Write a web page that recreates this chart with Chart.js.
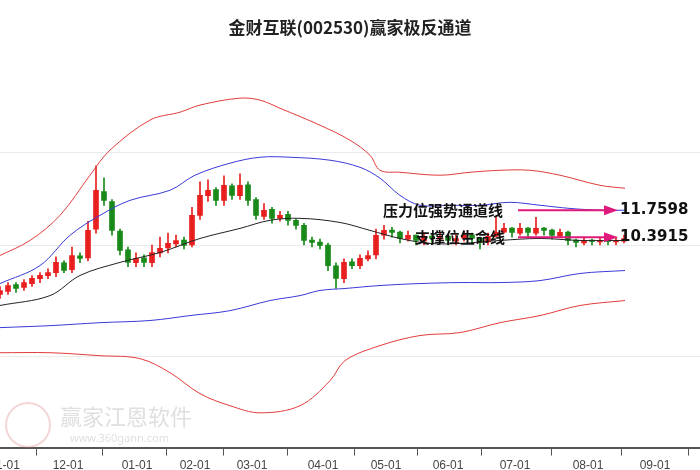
<!DOCTYPE html>
<html>
<head>
<meta charset="utf-8">
<script src="https://cdn.jsdelivr.net/npm/chart.js@4/dist/chart.umd.min.js"></script>
<style>
  body { margin: 0; background: #fff; }
  #wrap { width: 700px; height: 470px; }
</style>
</head>
<body>
<div id="wrap"><canvas id="chart"></canvas></div>
<script>
// month ticks (x position in trading-day units) and labels
const monthPos = [5, 68, 137, 195, 252, 323, 386, 448, 515, 588, 655];
const monthLabels = ["11-01", "12-01", "01-01", "02-01", "03-01", "04-01", "05-01", "06-01", "07-01", "08-01", "09-01"];

// candles, one every 8 units
const candleX = [0,8,16,24,32,40,48,56,64,72,80,88,96,104,112,120,128,136,144,152,160,168,176,184,192,200,208,216,224,232,240,248,256,264,272,280,288,296,304,312,320,328,336,344,352,360,368,376,384,392,400,408,416,424,432,440,448,456,464,472,480,488,496,504,512,520,528,536,544,552,560,568,576,584,592,600,608,616,624];
const closes = [7.70,7.95,7.80,8.10,8.31,8.46,8.61,9.12,8.72,9.47,9.32,10.74,12.77,12.26,10.74,9.73,9.12,9.32,9.12,9.62,9.83,10.08,10.23,9.98,11.50,12.51,12.77,12.26,13.02,12.51,13.02,12.26,11.50,11.75,11.35,11.50,11.25,10.99,10.23,10.13,9.98,8.96,8.31,9.12,8.96,9.32,9.47,10.49,10.74,10.64,10.33,10.49,10.23,10.44,10.33,10.44,10.23,10.33,10.49,10.33,10.13,10.44,10.64,10.84,10.64,10.84,10.64,10.84,10.74,10.49,10.64,10.23,10.13,10.23,10.18,10.23,10.18,10.23,10.33];
const opens  = [7.50,7.65,8.00,7.85,8.05,8.30,8.45,8.60,9.10,8.75,9.45,9.35,10.80,12.70,12.20,10.70,9.75,9.10,9.35,9.10,9.60,9.85,10.05,10.25,10.00,11.50,12.50,12.80,12.25,13.00,12.50,13.05,12.30,11.45,11.80,11.35,11.55,11.25,11.00,10.25,10.15,10.00,8.95,8.30,9.15,8.95,9.30,9.50,10.50,10.75,10.65,10.30,10.50,10.20,10.45,10.30,10.45,10.20,10.35,10.50,10.35,10.15,10.45,10.65,10.85,10.60,10.85,10.60,10.85,10.75,10.45,10.65,10.25,10.10,10.25,10.15,10.25,10.15,10.20];
const highs  = [7.90,8.10,8.10,8.25,8.45,8.60,8.80,9.40,9.20,9.90,9.60,11.20,14.00,13.40,12.30,10.80,9.90,9.60,9.50,10.00,10.40,10.60,10.50,10.40,11.90,13.20,13.30,12.90,13.50,13.10,13.60,13.20,12.40,12.10,11.90,11.70,11.70,11.30,11.10,10.40,10.30,10.10,9.10,9.30,9.30,9.50,9.70,10.80,11.00,10.90,10.70,10.70,10.50,10.60,10.50,10.60,10.50,10.50,10.70,10.60,10.40,10.60,11.40,11.10,10.90,11.10,10.90,11.40,10.90,10.80,10.80,10.70,10.30,10.40,10.30,10.40,10.30,10.40,10.50];
const lows   = [7.30,7.50,7.60,7.70,7.90,8.10,8.30,8.40,8.60,8.60,9.10,9.20,10.60,12.00,10.50,9.50,8.90,8.90,8.90,8.90,9.40,9.60,9.90,9.80,9.90,11.30,12.20,12.00,12.00,12.30,12.30,12.00,11.30,11.30,11.10,11.20,11.00,10.80,10.00,9.90,9.80,8.70,7.80,8.10,8.80,8.80,9.20,9.30,10.30,10.40,10.10,10.20,10.00,10.00,10.10,10.10,10.00,10.00,10.20,10.10,9.80,10.00,10.40,10.60,10.40,10.50,10.40,10.50,10.50,10.30,10.40,10.00,9.90,10.00,10.00,10.00,10.00,10.00,10.10];

// channel lines: x positions and values
const upperRedX = [0,30,60,90,110,150,180,200,240,260,280,320,350,370,380,400,440,470,500,530,560,600,625];
const upperRed  = [9.47,10.23,11.50,13.53,14.80,16.32,16.72,17.08,17.43,17.33,16.92,16.06,15.30,14.54,13.78,13.68,13.53,13.68,13.78,13.78,13.53,13.02,12.87];
const upperBlueX = [0,40,70,100,130,170,195,230,260,290,330,360,380,400,420,450,480,510,540,570,600,625];
const upperBlue  = [8.05,8.96,10.49,11.50,12.26,12.77,13.53,14.14,14.44,14.44,14.29,13.93,13.38,12.51,12.01,12.01,12.01,12.16,12.01,11.85,11.76,11.76];
const midX = [0,50,80,120,160,200,240,270,300,340,370,400,430,460,500,540,580,625];
const mid  = [6.94,7.44,8.46,9.12,9.62,10.33,10.84,11.25,11.35,11.14,10.74,10.33,10.08,10.08,10.23,10.33,10.23,10.23];
const lowerBlueX = [0,50,100,150,190,230,270,300,320,345,380,420,460,500,540,580,625];
const lowerBlue  = [5.82,5.92,6.07,6.18,6.43,6.68,7.19,7.44,7.70,7.80,7.95,8.05,8.10,8.10,8.20,8.56,8.71];
const lowerRedX = [0,50,100,140,170,200,230,260,300,330,345,380,420,460,500,540,580,625];
const lowerRed  = [4.55,4.55,4.40,4.25,3.54,2.48,1.87,1.51,1.87,3.13,4.15,4.91,5.42,5.57,6.07,6.43,6.94,7.19];

const gridValues = [14.70, 9.98, 4.40];
const pressureValue = 11.7598;
const supportValue = 10.3915;

const pts = (xs, ys) => xs.map((x, i) => ({ x: x, y: ys[i] }));
const candleColor = candleX.map((x, i) => closes[i] >= opens[i] ? "#e8201f" : "#1a8a1a");

const lineDs = (xs, ys, color) => ({
  type: "line", data: pts(xs, ys), borderColor: color, borderWidth: 1,
  pointRadius: 0, tension: 0.35, order: 1
});

const decor = {
  id: "decor",
  beforeDatasetsDraw(chart) {
    const { ctx, chartArea, scales } = chart;
    ctx.save();
    ctx.strokeStyle = "rgba(0,0,0,0.08)";
    ctx.lineWidth = 1;
    gridValues.forEach(v => {
      const y = Math.round(scales.y.getPixelForValue(v)) + 0.5;
      ctx.beginPath(); ctx.moveTo(chartArea.left, y); ctx.lineTo(chartArea.right, y); ctx.stroke();
    });
    // watermark
    ctx.fillStyle = "rgba(150,150,150,0.3)";
    ctx.font = "22px 'Noto Sans CJK SC'";
    ctx.fillText("赢家江恩软件", 60, 425);
    ctx.font = "11px 'Noto Sans'";
    ctx.fillText("www.360gann.com", 70, 442);
    ctx.strokeStyle = "rgba(220,120,120,0.3)";
    ctx.lineWidth = 2;
    ctx.beginPath(); ctx.arc(28, 425, 22, 0, Math.PI * 2); ctx.stroke();
    ctx.restore();
  },
  afterDatasetsDraw(chart) {
    const { ctx, scales } = chart;
    ctx.save();
    // title
    ctx.fillStyle = "#222";
    ctx.font = "bold 17px 'Noto Sans CJK SC'";
    ctx.textAlign = "center";
    ctx.textBaseline = "middle";
    ctx.fillText("金财互联(002530)赢家极反通道", 350, 28);
    const rows = [["压力位强势通道线", pressureValue, 383], ["支撑位生命线", supportValue, 415]];
    rows.forEach(([txt, v, tx]) => {
      const y = scales.y.getPixelForValue(v);
      ctx.strokeStyle = "#e0197d"; ctx.fillStyle = "#e0197d"; ctx.lineWidth = 2;
      ctx.beginPath(); ctx.moveTo(518, y); ctx.lineTo(608, y); ctx.stroke();
      ctx.beginPath(); ctx.moveTo(618, y); ctx.lineTo(604, y - 5); ctx.lineTo(604, y + 5); ctx.closePath(); ctx.fill();
      ctx.fillStyle = "#111"; ctx.textAlign = "left";
      ctx.font = "bold 15px 'Noto Sans CJK SC'";
      ctx.fillText(txt, tx, y);
      ctx.font = "bold 15px 'DejaVu Sans'";
      ctx.fillText(v.toFixed(4), 620, y);
    });
    ctx.restore();
  }
};

new Chart(document.getElementById("chart"), {
  data: {
    datasets: [
      lineDs(upperRedX, upperRed, "#e23c3c"),
      lineDs(upperBlueX, upperBlue, "#3a3ad8"),
      lineDs(midX, mid, "#222"),
      lineDs(lowerBlueX, lowerBlue, "#3a3ad8"),
      lineDs(lowerRedX, lowerRed, "#e23c3c"),
      {
        type: "bar", data: candleX.map((x, i) => ({ x: x, y: [lows[i], highs[i]] })),
        backgroundColor: candleColor, barThickness: 1, grouped: false, order: 2
      },
      {
        type: "bar", data: candleX.map((x, i) => ({ x: x, y: [opens[i], closes[i]] })),
        backgroundColor: candleColor, barThickness: 5, grouped: false, minBarLength: 1, order: 2
      }
    ]
  },
  plugins: [decor],
  options: {
    responsive: true,
    maintainAspectRatio: false,
    animation: false,
    layout: { padding: { top: 60, left: 0, right: 0, bottom: -6 } },
    plugins: { legend: { display: false }, tooltip: { enabled: false } },
    scales: {
      x: {
        type: "linear", min: 0, max: 700, offset: false,
        afterBuildTicks: (axis) => { axis.ticks = monthPos.map(v => ({ value: v })); },
        afterFit: (axis) => { axis.paddingLeft = 0; axis.paddingRight = 0; },
        ticks: {
          autoSkip: false, maxRotation: 0, color: "#444",
          font: { family: "Liberation Sans", size: 12 },
          callback: (v) => monthLabels[monthPos.indexOf(v)]
        },
        grid: { drawOnChartArea: false, tickLength: 8, color: "#555" },
        border: { color: "#555", width: 2 }
      },
      y: { display: false, min: -0.25, max: 19.36 }
    }
  }
});
</script>
</body>
</html>
